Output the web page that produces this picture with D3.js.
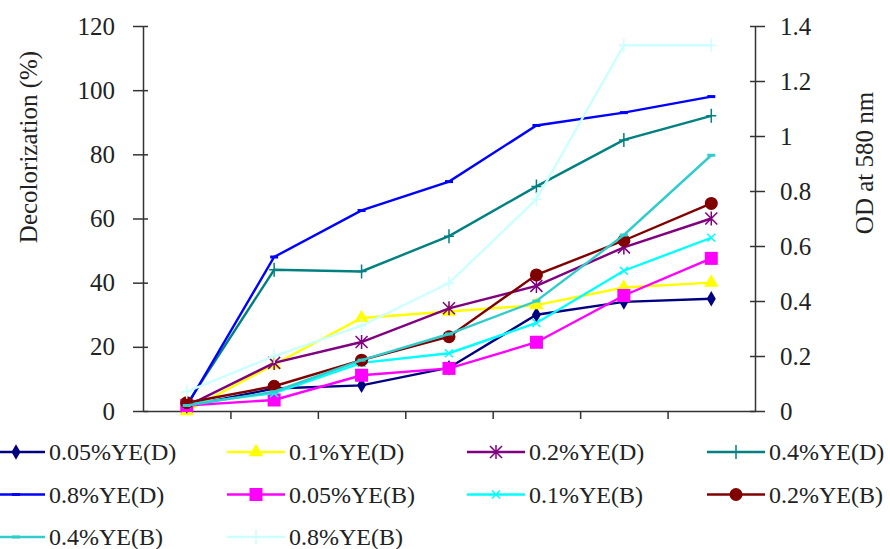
<!DOCTYPE html>
<html>
<head>
<meta charset="utf-8">
<script src="https://cdnjs.cloudflare.com/ajax/libs/d3/7.8.5/d3.min.js"></script>
<style>
  body { margin: 0; background: #fff; }
  text { font-family: "Liberation Serif", "Times New Roman", serif; fill: #222; }
</style>
</head>
<body>
<svg id="chart" width="890" height="549"></svg>
<script>
// sampling points (unlabelled on the x axis)
var timePoints = [0, 1, 2, 3, 4, 5, 6]
var leftTicks = [0, 20, 40, 60, 80, 100, 120]
var rightTicks = [0, 0.2, 0.4, 0.6, 0.8, 1, 1.2, 1.4]

// decolorization (%), left axis
var ye005D = [1.5, 7, 8, 13.5, 30, 34, 35]
var ye01D = [0, 14.5, 29, 31, 33, 38.5, 40]
var ye02D = [1.5, 15, 21.5, 32, 39, 51, 60]
var ye04D = [2, 44, 43.5, 54.5, 70, 84.5, 92]
var ye08D = [1.5, 48, 62.5, 71.5, 89, 93, 98]

// OD at 580 nm, right axis
var ye005B = [0.02, 0.04, 0.13, 0.155, 0.25, 0.42, 0.555]
var ye01B = [0.025, 0.065, 0.175, 0.21, 0.32, 0.51, 0.63]
var ye02B = [0.03, 0.09, 0.185, 0.27, 0.495, 0.62, 0.755]
var ye04B = [0.02, 0.07, 0.185, 0.28, 0.4, 0.64, 0.93]
var ye08B = [0.07, 0.2, 0.31, 0.465, 0.77, 1.33, 1.33]

var seriesNames = ["0.05%YE(D)", "0.1%YE(D)", "0.2%YE(D)", "0.4%YE(D)", "0.8%YE(D)",
                   "0.05%YE(B)", "0.1%YE(B)", "0.2%YE(B)", "0.4%YE(B)", "0.8%YE(B)"]

var series = [
  {name: seriesNames[0], values: ye005D, axis: "left",  color: "#000080", marker: "diamond"},
  {name: seriesNames[1], values: ye01D,  axis: "left",  color: "#ffff00", marker: "triangle"},
  {name: seriesNames[2], values: ye02D,  axis: "left",  color: "#800080", marker: "asterisk"},
  {name: seriesNames[3], values: ye04D,  axis: "left",  color: "#008080", marker: "plus"},
  {name: seriesNames[4], values: ye08D,  axis: "left",  color: "#0000ff", marker: "dash"},
  {name: seriesNames[5], values: ye005B, axis: "right", color: "#ff00ff", marker: "square"},
  {name: seriesNames[6], values: ye01B,  axis: "right", color: "#00ffff", marker: "xcross"},
  {name: seriesNames[7], values: ye02B,  axis: "right", color: "#800000", marker: "circle"},
  {name: seriesNames[8], values: ye04B,  axis: "right", color: "#33cccc", marker: "dash"},
  {name: seriesNames[9], values: ye08B,  axis: "right", color: "#ccffff", marker: "plus"}
]

var plotLeft = 143, plotRight = 755, plotTop = 26, plotBottom = 411

var svg = d3.select("#chart")

// category slots; points sit in the middle of each slot
var xSlot = d3.scaleLinear().domain([0, timePoints.length]).range([plotLeft, plotRight])
var xPos = function(i) { return xSlot(i + 0.5) }

var yLeft = d3.scaleLinear().domain([0, 120]).range([plotBottom, plotTop])
var yRight = d3.scaleLinear().domain([0, 1.4]).range([plotBottom, plotTop])

// axes (ticks cross the axis line: long outside, short inside)
svg.append("g")
    .attr("transform", "translate(" + plotLeft + ",0)")
    .call(d3.axisLeft(yLeft).tickValues(leftTicks).tickSize(10).tickSizeOuter(0).tickPadding(18))
svg.append("g")
    .attr("transform", "translate(" + plotLeft + ",0)")
    .call(d3.axisRight(yLeft).tickValues(leftTicks).tickSize(5).tickFormat(""))
    .select(".domain").remove()

svg.append("g")
    .attr("transform", "translate(" + plotRight + ",0)")
    .call(d3.axisRight(yRight).tickValues(rightTicks).tickSize(10).tickSizeOuter(0).tickPadding(15)
      .tickFormat(function(d) { return String(d) }))
svg.append("g")
    .attr("transform", "translate(" + plotRight + ",0)")
    .call(d3.axisLeft(yRight).tickValues(rightTicks).tickSize(5).tickFormat(""))
    .select(".domain").remove()

svg.append("g")
    .attr("transform", "translate(0," + plotBottom + ")")
    .call(d3.axisBottom(xSlot).tickValues(d3.range(1, timePoints.length)).tickSize(8).tickSizeOuter(0).tickFormat(""))

svg.selectAll(".domain, .tick line").attr("stroke", "#333").attr("stroke-width", 1.5)
svg.selectAll(".tick text").attr("font-size", "25px").attr("fill", "#222")
    .style("font-family", "'Liberation Serif', 'Times New Roman', serif")

// axis titles
svg.append("text")
    .attr("transform", "translate(28,147) rotate(-90)")
    .attr("dy", "0.35em")
    .attr("text-anchor", "middle")
    .attr("font-size", "25px")
    .text("Decolorization (%)")

svg.append("text")
    .attr("transform", "translate(864,163) rotate(-90)")
    .attr("dy", "0.35em")
    .attr("text-anchor", "middle")
    .attr("font-size", "25px")
    .text("OD at 580 nm")

// marker drawing
var drawMarker = function(g, type, color) {
  if (type == "diamond") {
    g.append("path").attr("d", d3.symbol(d3.symbolDiamond, 70)()).attr("fill", color)
  } else if (type == "triangle") {
    g.append("path").attr("d", d3.symbol(d3.symbolTriangle, 90)()).attr("fill", color)
  } else if (type == "square") {
    g.append("rect").attr("x", -6.5).attr("y", -6.5).attr("width", 13).attr("height", 13).attr("fill", color)
  } else if (type == "circle") {
    g.append("circle").attr("r", 6.5).attr("fill", color)
  } else if (type == "asterisk") {
    g.append("path").attr("d", "M-6,-6L6,6M-6,6L6,-6M0,-7L0,7")
      .attr("stroke", color).attr("stroke-width", 1.5).attr("fill", "none")
  } else if (type == "xcross") {
    g.append("path").attr("d", "M-4,-4L4,4M-4,4L4,-4")
      .attr("stroke", color).attr("stroke-width", 1.5).attr("fill", "none")
  } else if (type == "plus") {
    g.append("path").attr("d", "M0,-7L0,7M-5,0L5,0")
      .attr("stroke", color).attr("stroke-width", 1.5).attr("fill", "none")
  } else if (type == "dash") {
    g.append("path").attr("d", "M-4,0L4,0")
      .attr("stroke", color).attr("stroke-width", 3).attr("fill", "none")
  }
}

// lines and markers
series.forEach(function(s) {
  var yScale = s.axis == "left" ? yLeft : yRight
  var line = d3.line()
      .x(function(d, i) { return xPos(i) })
      .y(function(d) { return yScale(d) })

  svg.append("path")
      .datum(s.values)
      .attr("d", line)
      .attr("fill", "none")
      .attr("stroke", s.color)
      .attr("stroke-width", 2.4)

  s.values.forEach(function(v, i) {
    var g = svg.append("g").attr("transform", "translate(" + xPos(i) + "," + yScale(v) + ")")
    drawMarker(g, s.marker, s.color)
  })
})

// legend: 4 columns, 3 rows
var legendCols = 4
series.forEach(function(s, i) {
  var col = i % legendCols
  var row = Math.floor(i / legendCols)
  var x0 = -13 + col * 240
  var yc = 452 + row * 42.5
  var g = svg.append("g").attr("transform", "translate(" + x0 + "," + yc + ")")
  g.append("line")
      .attr("x1", 0).attr("x2", 58)
      .attr("stroke", s.color).attr("stroke-width", 2.4)
  var m = g.append("g").attr("transform", "translate(29,0)")
  drawMarker(m, s.marker, s.color)
  g.append("text")
      .attr("x", 62)
      .attr("dy", "0.35em")
      .attr("font-size", "24px")
      .attr("fill", "#333")
      .text(s.name)
})
</script>
</body>
</html>
